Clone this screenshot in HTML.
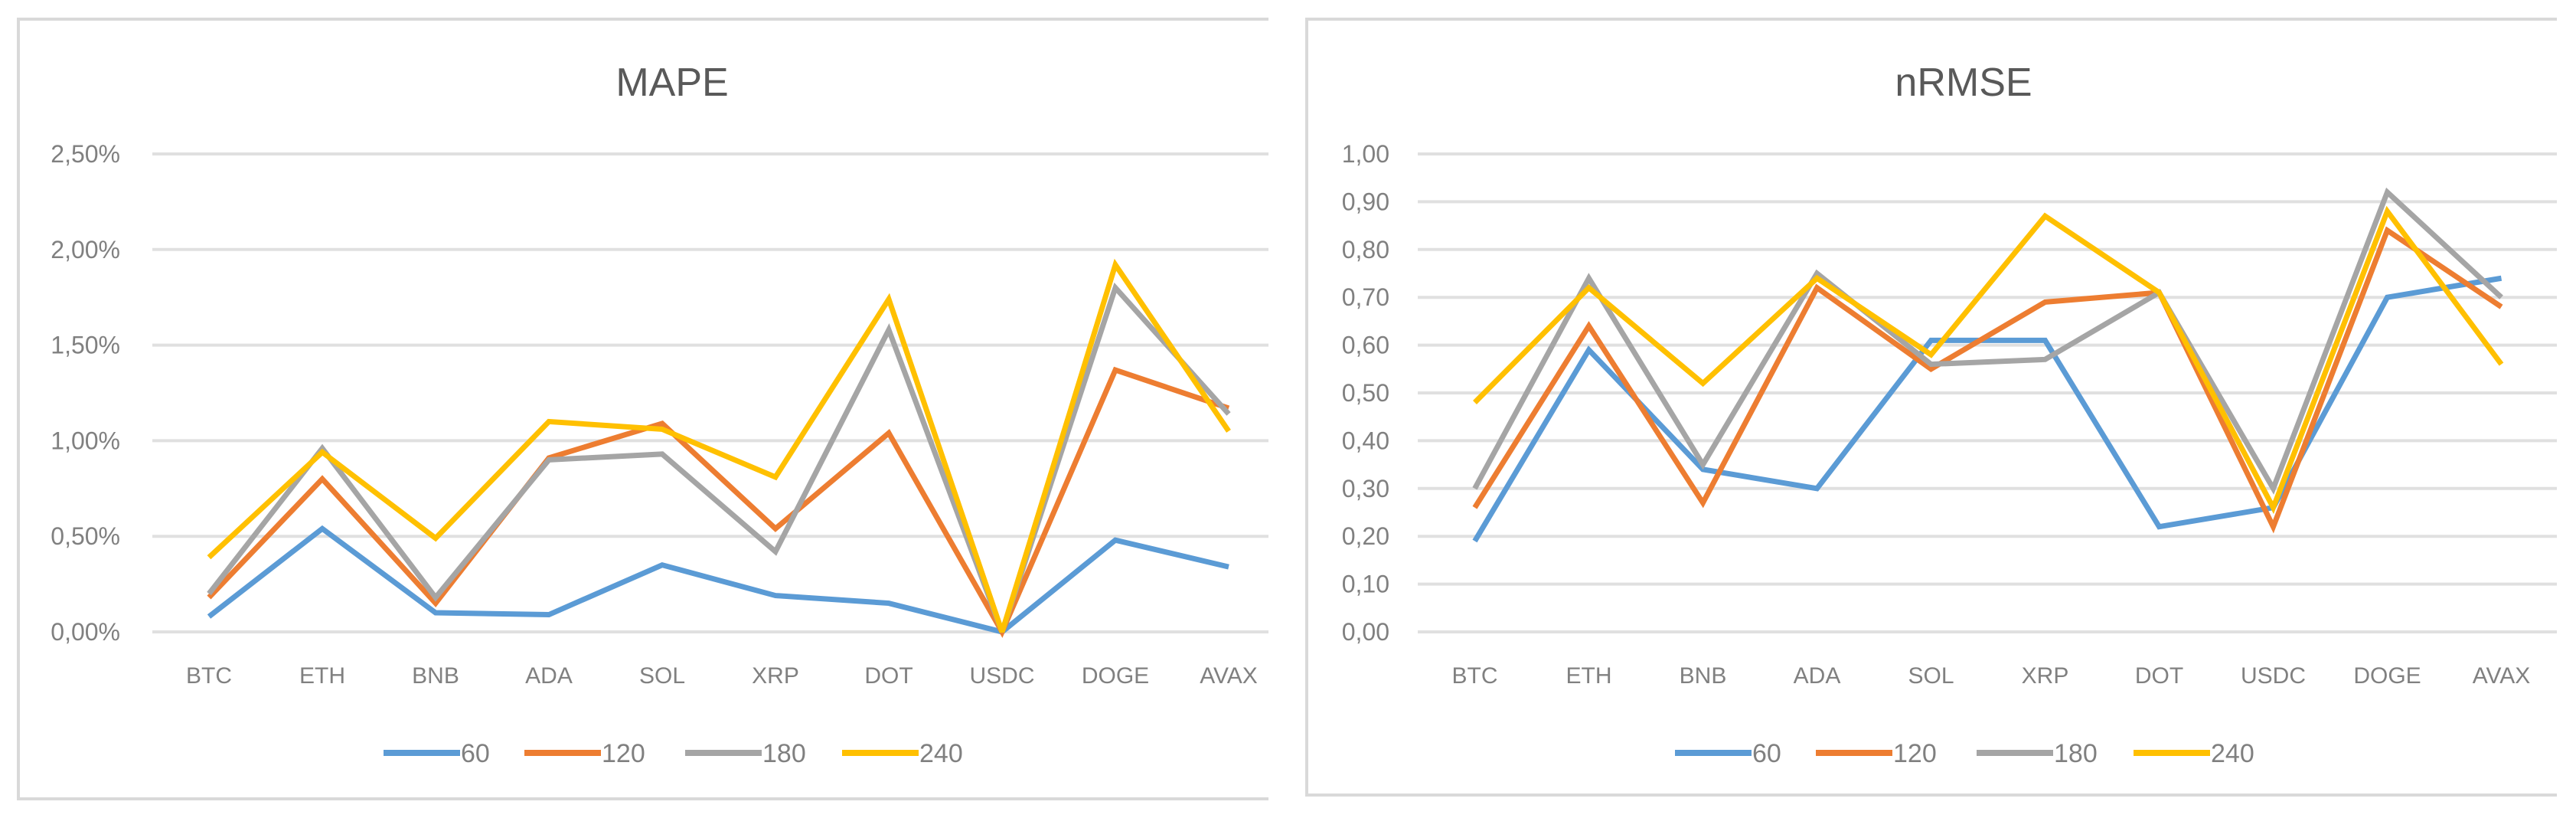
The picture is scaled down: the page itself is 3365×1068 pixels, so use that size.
<!DOCTYPE html>
<html><head><meta charset="utf-8">
<style>
html,body{margin:0;padding:0;background:#fff;}
svg{display:block;font-family:"Liberation Sans",sans-serif;}
</style></head>
<body>
<svg id="svg" width="3365" height="1068" viewBox="0 0 3365 1068"></svg>
<script>
const categories = ["BTC","ETH","BNB","ADA","SOL","XRP","DOT","USDC","DOGE","AVAX"];
const seriesNames = ["60","120","180","240"];
const mape60  = [0.08,0.54,0.10,0.09,0.35,0.19,0.15,0.00,0.48,0.34];
const mape120 = [0.18,0.80,0.15,0.91,1.09,0.54,1.04,0.00,1.37,1.17];
const mape180 = [0.20,0.96,0.18,0.90,0.93,0.42,1.58,0.00,1.80,1.14];
const mape240 = [0.39,0.94,0.49,1.10,1.06,0.81,1.74,0.00,1.92,1.05];
const mapeTicks = [0,0.5,1.0,1.5,2.0,2.5];
const mapeTickLabels = ["0,00%","0,50%","1,00%","1,50%","2,00%","2,50%"];
const nrmse60  = [0.19,0.59,0.34,0.30,0.61,0.61,0.22,0.26,0.70,0.74];
const nrmse120 = [0.26,0.64,0.27,0.72,0.55,0.69,0.71,0.22,0.84,0.68];
const nrmse180 = [0.30,0.74,0.35,0.75,0.56,0.57,0.71,0.30,0.92,0.70];
const nrmse240 = [0.48,0.72,0.52,0.74,0.58,0.87,0.71,0.26,0.88,0.56];
const nrmseTicks = [0,0.1,0.2,0.3,0.4,0.5,0.6,0.7,0.8,0.9,1.0];
const nrmseTickLabels = ["0,00","0,10","0,20","0,30","0,40","0,50","0,60","0,70","0,80","0,90","1,00"];
const colors = ["#5B9BD5","#ED7D31","#A5A5A5","#FFC000"];

const NS="http://www.w3.org/2000/svg";
const svg=document.getElementById('svg');
function mk(tag,attrs,parent){const e=document.createElementNS(NS,tag);for(const k in attrs)e.setAttribute(k,attrs[k]);(parent||svg).appendChild(e);return e;}

function drawChart(cfg){
  const g=mk('g',{});
  
  
  const box=mk('path',{d:`M${cfg.boxR} ${cfg.boxT} H${cfg.boxL} V${cfg.boxB} H${cfg.boxR}`,fill:'none',stroke:'#d9d9d9','stroke-width':4},g);
  
  
  const t=mk('text',{x:cfg.titleX,y:125,'font-size':52,fill:'#595959','text-anchor':'middle'},g);
  t.textContent=cfg.title;
  
  
  const y0=825,y1=201;
  const yScale=v=>y0-(v-cfg.ticks[0])/(cfg.ticks[cfg.ticks.length-1]-cfg.ticks[0])*(y0-y1);
  const xScale=i=>cfg.plotL+cfg.step*(i+0.5);
  cfg.ticks.forEach((v,i)=>{
    const l=mk('line',{x1:cfg.plotL,x2:cfg.boxR,y1:yScale(v),y2:yScale(v),stroke:'#e0e0e0','stroke-width':4},g);
    
    
    const tx=mk('text',{x:cfg.labelX,y:yScale(v)+11,'font-size':32,fill:'#808080','text-anchor':'end'},g);
    tx.textContent=cfg.tickLabels[i];
    
    
  });
  categories.forEach((c,i)=>{
    const tx=mk('text',{x:xScale(i),y:892,'font-size':30,fill:'#808080','text-anchor':'middle'},g);
    tx.textContent=c;
    
    
  });
  cfg.series.forEach((vals,s)=>{
    const pts=vals.map((v,i)=>xScale(i)+','+yScale(v)).join(' ');
    const pl=mk('polyline',{points:pts,fill:'none',stroke:colors[s],'stroke-width':7,'stroke-linejoin':'miter','stroke-miterlimit':3},g);
    
    
  });
  const lx=[0,184,394,599];
  seriesNames.forEach((n,s)=>{
    const x=cfg.legendX+lx[s];
    const lg=mk('g',{},g);
    
    
    mk('line',{x1:x,x2:x+100,y1:983,y2:983,stroke:colors[s],'stroke-width':8},lg);
    const tx=mk('text',{x:x+101,y:995,'font-size':34,fill:'#808080'},lg);
    tx.textContent=n;
  });
}
drawChart({name:'mape-chart',title:'MAPE',boxL:24,boxT:25,boxB:1043,boxR:1657,titleX:878,
  plotL:199,step:148,labelX:157,ticks:mapeTicks,tickLabels:mapeTickLabels,
  series:[mape60,mape120,mape180,mape240],legendX:501});
drawChart({name:'nrmse-chart',title:'nRMSE',boxL:1707,boxT:25,boxB:1038,boxR:3340,titleX:2565,
  plotL:1852,step:149,labelX:1815,ticks:nrmseTicks,tickLabels:nrmseTickLabels,
  series:[nrmse60,nrmse120,nrmse180,nrmse240],legendX:2188});
</script>
</body></html>
